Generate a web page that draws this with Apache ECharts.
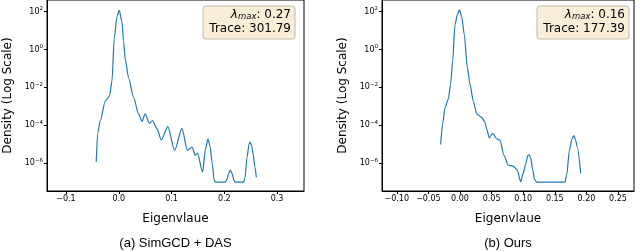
<!DOCTYPE html>
<html>
<head>
<meta charset="utf-8">
<script src="https://cdn.jsdelivr.net/npm/echarts@6/dist/echarts.min.js"></script>
<style>
html,body{margin:0;padding:0;background:#fff;}
#c{width:640px;height:251px;}
</style>
</head>
<body>
<div id="c"></div>
<script>
// ---- data ----
const xLeft = [-0.0427,-0.040,-0.035,-0.0256,-0.0174,-0.0129,-0.0085,-0.0034,0.001,0.006,0.009,0.0123,0.0186,0.028,0.0375,0.044,0.050,0.058,0.064,0.0724,0.0806,0.093,0.1058,0.1198,0.130,0.139,0.145,0.149,0.159,0.164,0.169,0.173,0.177,0.1805,0.183,0.2019,0.205,0.208,0.2114,0.215,0.218,0.2205,0.2366,0.239,0.243,0.247,0.249,0.252,0.2544,0.258,0.2607];
const densityLeft = [1.15e-6,3.7e-5,1.8e-4,1.9e-3,3.6e-3,2.2e-2,4.1,55,115,30,2.7,0.30,0.032,2.95e-3,4.0e-4,1.6e-4,4.0e-4,1.3e-4,1.8e-4,6.5e-5,1.7e-5,8.5e-5,4.8e-6,6.9e-5,4.8e-6,7.1e-6,2.6e-6,3.4e-6,3.5e-7,5.0e-6,1.95e-5,7.9e-6,1.0e-6,1.4e-7,1.0e-7,1.0e-7,1.4e-7,2.8e-7,4.3e-7,2.8e-7,1.3e-7,1.0e-7,1.0e-7,1.6e-7,2.0e-6,1.05e-5,1.3e-5,7.9e-6,3.2e-6,6.3e-7,1.8e-7];

const xRight = [-0.0306,-0.0274,-0.0237,-0.0185,-0.0148,-0.0116,-0.0079,-0.0043,-0.001,0.0027,0.0068,0.0116,0.0158,0.021,0.0264,0.0343,0.0396,0.0422,0.0464,0.0517,0.058,0.0633,0.0696,0.0764,0.0843,0.0907,0.096,0.100,0.1035,0.1075,0.1097,0.112,0.115,0.118,0.1214,0.166,0.169,0.173,0.1775,0.1804,0.183,0.1856,0.191];
const densityRight = [9.8e-6,1.2e-4,8.7e-4,2.4e-3,0.015,0.25,20,68,123,55,6.2,0.11,0.015,1.9e-3,4.0e-4,2.6e-4,1.45e-4,6.5e-5,2.2e-5,3.8e-5,1.95e-5,1.6e-5,2.6e-6,7.8e-7,7.1e-7,4.3e-7,1.05e-7,2.9e-7,7.9e-7,2.6e-6,2.8e-6,1.8e-6,4.5e-7,1.4e-7,1.0e-7,1.0e-7,2.5e-7,4.8e-6,2.0e-5,2.9e-5,1.6e-5,7.1e-6,2.9e-7];

const yTicks = [1e-6, 1e-4, 1e-2, 1, 100];
const xTicksLeft = [-0.1, 0.0, 0.1, 0.2, 0.3];
const xTicksRight = [-0.10, -0.05, 0.00, 0.05, 0.10, 0.15, 0.20, 0.25];
const xLabelsLeft = ['\u22120.1', '0.0', '0.1', '0.2', '0.3'];
const xLabelsRight = ['\u22120.10', '\u22120.05', '0.00', '0.05', '0.10', '0.15', '0.20', '0.25'];

const captions = ['(a) SimGCD + DAS', '(b) Ours'];
const lambdaMax = ['0.27', '0.16'];
const traces = ['301.79', '177.39'];
const xName = 'Eigenvlaue';
const yName = 'Density (Log Scale)';

// ---- chart ----
const FONT = 'DejaVu Sans';
const chart = echarts.init(document.getElementById('c'), null, {renderer: 'canvas'});

function pairs(xs, ys) { return xs.map((x, i) => [x, ys[i]]); }

function yLabel(v) {
  const e = Math.round(Math.log10(v));
  return '{b|10}{s|' + (e < 0 ? '\u2212' + (-e) : String(e)) + '}';
}

function xAxisCfg(idx, min, max, ticks, labels) {
  return {
    type: 'value', gridIndex: idx, min: min, max: max,
    name: xName, nameLocation: 'middle', nameGap: 22,
    nameTextStyle: {fontFamily: FONT, fontSize: 12, color: '#000'},
    axisLine: {show: true, onZero: false, lineStyle: {color: '#000', width: 1}},
    axisTick: {show: true, length: 3, lineStyle: {color: '#000', width: 1}, customValues: ticks},
    axisLabel: {
      fontFamily: FONT, fontSize: 8, color: '#000', margin: 4,
      customValues: ticks,
      formatter: function (v) {
        let best = 0;
        for (let i = 0; i < ticks.length; i++) if (Math.abs(ticks[i] - v) < Math.abs(ticks[best] - v)) best = i;
        return labels[best];
      }
    },
    splitLine: {show: false}
  };
}

function yAxisCfg(idx) {
  return {
    type: 'log', logBase: 10, gridIndex: idx,
    min: Math.pow(10, -7.466), max: Math.pow(10, 2.613),
    name: yName, nameLocation: 'middle', nameGap: 33, nameRotate: 90,
    nameTextStyle: {fontFamily: FONT, fontSize: 12, color: '#000'},
    axisLine: {show: true, onZero: false, lineStyle: {color: '#000', width: 1}},
    axisTick: {show: true, length: 3, lineStyle: {color: '#000', width: 1}, customValues: yTicks},
    axisLabel: {
      customValues: yTicks, margin: 4, color: '#000',
      formatter: yLabel,
      rich: {
        b: {fontFamily: FONT, fontSize: 8, color: '#000', lineHeight: 12},
        s: {fontFamily: FONT, fontSize: 5.5, color: '#000', lineHeight: 6, verticalAlign: 'top'}
      }
    },
    splitLine: {show: false}
  };
}

function lineSeries(idx, data) {
  return {
    type: 'line', xAxisIndex: idx, yAxisIndex: idx, data: data,
    showSymbol: false, smooth: 0.25, smoothMonotone: 'x',
    lineStyle: {color: '#1f77b4', width: 1.2},
    silent: true, animation: false, clip: true
  };
}

function box(rightX, topY, w, lam, tr) {
  return {
    type: 'group',
    children: [
      {type: 'rect', shape: {x: rightX - w, y: topY, width: w, height: 33, r: 3},
       style: {fill: '#faeed9', stroke: '#bfb8ab', lineWidth: 1}},
      {type: 'text', x: rightX - 4, y: topY + 9,
       style: {text: '{l|\u03bb}{m|max}{t|: ' + lam + '}', align: 'right', verticalAlign: 'middle',
         rich: {
           l: {fontFamily: FONT, fontStyle: 'italic', fontSize: 12, fill: '#000'},
           m: {fontFamily: FONT, fontStyle: 'italic', fontSize: 8.5, fill: '#000', verticalAlign: 'bottom', lineHeight: 12},
           t: {fontFamily: FONT, fontSize: 12, fill: '#000'}
         }}},
      {type: 'text', x: rightX - 4, y: topY + 23,
       style: {text: 'Trace: ' + tr, align: 'right', verticalAlign: 'middle',
         font: '12px "DejaVu Sans"', fill: '#000'}}
    ]
  };
}

const option = {
  animation: false,
  backgroundColor: '#fff',
  grid: [
    {left: 47, right: 336, top: -1, bottom: 60, show: true, borderColor: '#000', borderWidth: 1, backgroundColor: 'transparent'},
    {left: 382, right: 6, top: -1, bottom: 60, show: true, borderColor: '#000', borderWidth: 1, backgroundColor: 'transparent'}
  ],
  xAxis: [
    xAxisCfg(0, -0.136, 0.351, xTicksLeft, xLabelsLeft),
    xAxisCfg(1, -0.1234, 0.2753, xTicksRight, xLabelsRight)
  ],
  yAxis: [yAxisCfg(0), yAxisCfg(1)],
  series: [
    lineSeries(0, pairs(xLeft, densityLeft)),
    lineSeries(1, pairs(xRight, densityRight))
  ],
  graphic: [
    box(295, 6, 92, lambdaMax[0], traces[0]),
    box(629, 6, 92, lambdaMax[1], traces[1]),
    {type: 'text', x: 175.5, y: 243, style: {text: captions[0], align: 'center', verticalAlign: 'middle', font: '13px "Liberation Sans"', fill: '#000'}},
    {type: 'text', x: 508, y: 243, style: {text: captions[1], align: 'center', verticalAlign: 'middle', font: '13px "Liberation Sans"', fill: '#000'}}
  ]
};
chart.setOption(option);
</script>
</body>
</html>
